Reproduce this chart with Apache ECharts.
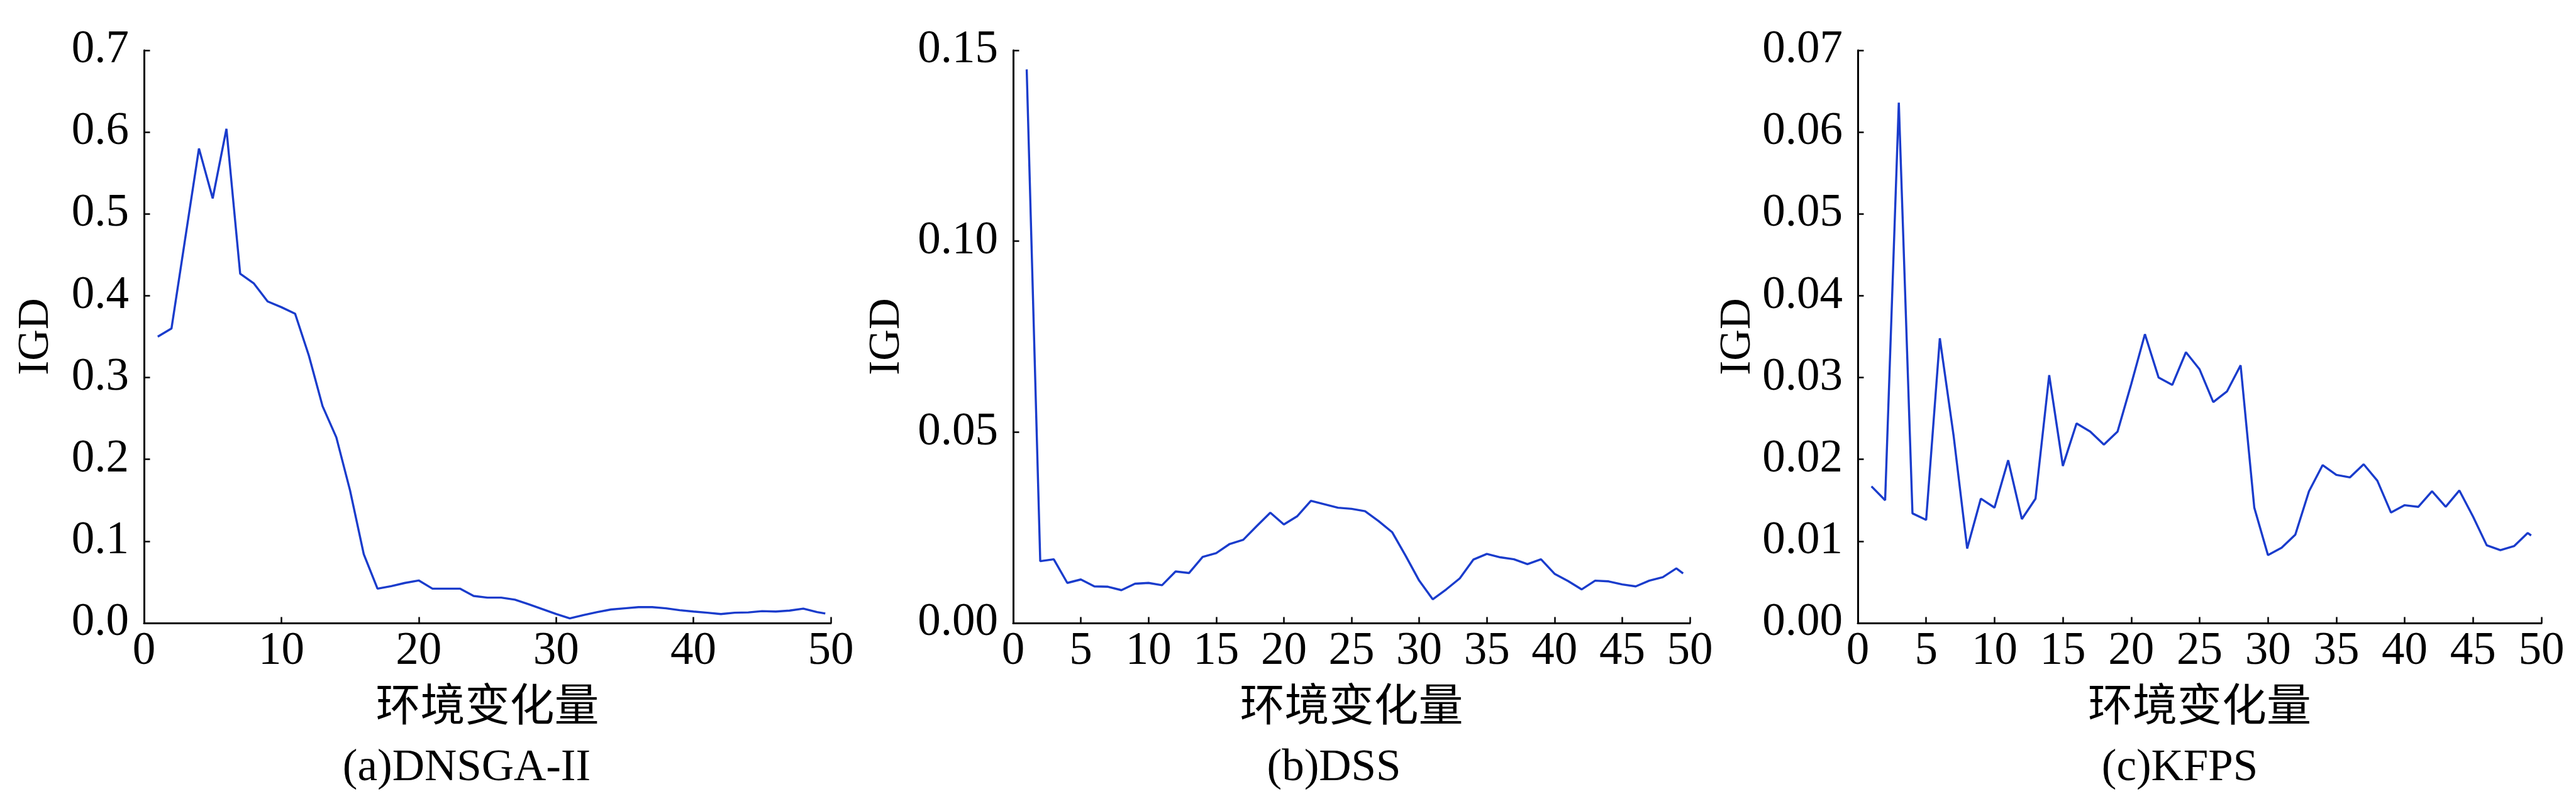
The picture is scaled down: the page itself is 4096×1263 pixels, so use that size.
<!DOCTYPE html>
<html>
<head>
<meta charset="utf-8">
<script src="https://cdn.jsdelivr.net/npm/echarts@6/dist/echarts.min.js"></script>
<style>
  html, body { margin: 0; padding: 0; background: #fff; }
  #chart { width: 4096px; height: 1263px; }
</style>
</head>
<body>
<div id="chart"></div>
<script>
// environment change index, the last point of each curve stops a bit short of 50
const steps = [1, 2, 3, 4, 5, 6, 7, 8, 9, 10, 11, 12, 13, 14, 15, 16, 17, 18, 19, 20,
  21, 22, 23, 24, 25, 26, 27, 28, 29, 30, 31, 32, 33, 34, 35, 36, 37, 38, 39, 40,
  41, 42, 43, 44, 45, 46, 47, 48, 49]
const endSteps = [49.6, 49.5, 49.25]

const igdDNSGA = [0.350, 0.360, 0.470, 0.580, 0.519, 0.604, 0.427, 0.415, 0.393, 0.386,
  0.378, 0.327, 0.265, 0.227, 0.162, 0.084, 0.042, 0.045, 0.049, 0.052,
  0.042, 0.042, 0.042, 0.033, 0.031, 0.031, 0.0285, 0.023, 0.017, 0.011,
  0.0056, 0.0097, 0.0133, 0.0165, 0.018, 0.0194, 0.0194, 0.018, 0.0157, 0.014,
  0.0126, 0.0109, 0.0126, 0.013, 0.0145, 0.014, 0.0152, 0.0176, 0.0133, 0.0116]

const igdDSS = [0.145, 0.0162, 0.0167, 0.0105, 0.0114, 0.0096, 0.0095, 0.0086, 0.0103, 0.0105,
  0.0099, 0.0135, 0.0131, 0.0173, 0.0183, 0.0207, 0.0218, 0.0254, 0.0289, 0.0258,
  0.028, 0.032, 0.0311, 0.0302, 0.0299, 0.0293, 0.0267, 0.0238, 0.0176, 0.0111,
  0.0062, 0.0088, 0.0117, 0.0166, 0.0181, 0.0172, 0.0167, 0.0154, 0.0167, 0.0129,
  0.011, 0.0088, 0.0111, 0.0109, 0.0101, 0.0096, 0.0111, 0.012, 0.0143, 0.013]

const igdKFPS = [0.0167, 0.0150, 0.0636, 0.0134, 0.0126, 0.0348, 0.023, 0.0091, 0.0152, 0.0141,
  0.0199, 0.0127, 0.0152, 0.0303, 0.0192, 0.0244, 0.0234, 0.0218, 0.0234, 0.0292,
  0.0353, 0.0300, 0.0291, 0.0331, 0.0310, 0.0270, 0.0283, 0.0315, 0.0141, 0.0083,
  0.0092, 0.0108, 0.0161, 0.0193, 0.0181, 0.0178, 0.0194, 0.0174, 0.0135, 0.0144,
  0.0142, 0.0161, 0.0142, 0.0162, 0.0130, 0.0095, 0.0089, 0.0094, 0.0110, 0.0107]

const panelTitles = ['(a)DNSGA-II', '(b)DSS', '(c)KFPS']
const yMax = [0.7, 0.15, 0.07]
const yStep = [0.1, 0.05, 0.01]
const yDigits = [1, 2, 2]
const xStep = [10, 5, 5]

const serif = 'Liberation Serif'
const cjk = 'Noto Sans CJK SC'
const lineBlue = '#1a3ccc'

// plot boxes (px in the 4096 window)
const grids = [
  { left: 229, top: 80, width: 1092, height: 911 },
  { left: 1611, top: 80, width: 1076, height: 911 },
  { left: 2954, top: 80, width: 1087, height: 911 },
]
const yNameGap = [137, 166, 148]
const titleX = [742, 2121, 3466]

const allValues = [igdDNSGA, igdDSS, igdKFPS]

function toPairs(vals, i) {
  const xs = steps.concat([endSteps[i]])
  return vals.map((v, k) => [xs[k], v])
}

const axisLineStyle = { color: '#000', width: 3 }

const option = {
  backgroundColor: '#fff',
  animation: false,
  grid: grids.map(g => Object.assign({ containLabel: false, outerBoundsMode: 'none' }, g)),
  xAxis: grids.map((g, i) => ({
    type: 'value',
    gridIndex: i,
    min: 0,
    max: 50,
    interval: xStep[i],
    name: '环境变化量',
    nameLocation: 'middle',
    nameGap: 93,
    nameTextStyle: { fontFamily: cjk, fontSize: 71, color: '#000' },
    axisLine: { show: true, lineStyle: axisLineStyle },
    axisTick: { show: true, inside: true, length: 9.5, lineStyle: { color: '#000', width: 2.5 } },
    axisLabel: { fontFamily: serif, fontSize: 73, color: '#000', margin: 9 },
    splitLine: { show: false },
  })),
  yAxis: grids.map((g, i) => ({
    type: 'value',
    gridIndex: i,
    min: 0,
    max: yMax[i],
    interval: yStep[i],
    name: 'IGD',
    nameLocation: 'middle',
    nameGap: yNameGap[i],
    nameTextStyle: { fontFamily: serif, fontSize: 69, color: '#000' },
    axisLine: { show: true, lineStyle: axisLineStyle },
    axisTick: { show: true, inside: true, length: 9.5, lineStyle: { color: '#000', width: 2.5 } },
    axisLabel: {
      fontFamily: serif, fontSize: 73, color: '#000', margin: 24,
      formatter: (v) => v.toFixed(yDigits[i]),
    },
    splitLine: { show: false },
  })),
  series: allValues.map((vals, i) => ({
    type: 'line',
    xAxisIndex: i,
    yAxisIndex: i,
    data: toPairs(vals, i),
    showSymbol: false,
    symbol: 'none',
    lineStyle: { color: lineBlue, width: 3.4 },
  })),
  graphic: panelTitles.map((t, i) => ({
    type: 'text',
    x: titleX[i],
    y: 1222,
    style: {
      text: t,
      fill: '#000',
      font: '71px "Liberation Serif"',
      textAlign: 'center',
      textVerticalAlign: 'middle',
    },
  })),
}

const myChart = echarts.init(document.getElementById('chart'))
myChart.setOption(option)
</script>
</body>
</html>
